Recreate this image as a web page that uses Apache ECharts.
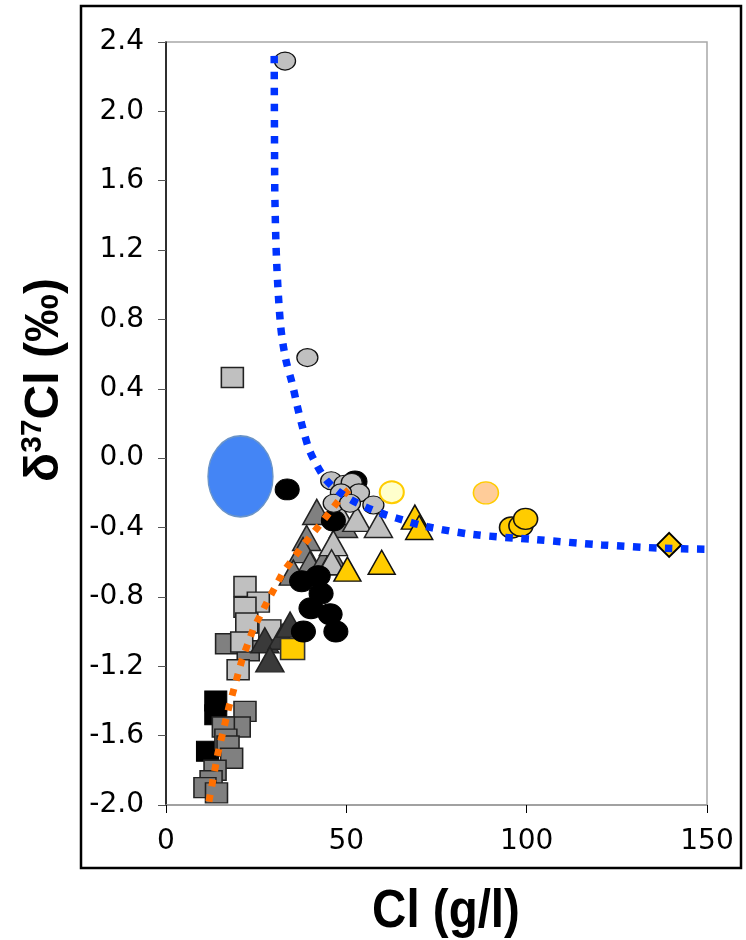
<!DOCTYPE html>
<html>
<head>
<meta charset="utf-8">
<script src="https://cdn.jsdelivr.net/npm/echarts@6/dist/echarts.min.js"></script>
<style>
  html, body { margin: 0; padding: 0; background: #fff; }
  #chart { width: 746px; height: 940px; }
</style>
</head>
<body>
<div id="chart"></div>
<script>
// x = Cl (g/l), y = d37Cl (permil)
const xTicks = [0, 50, 100, 150];
const yTicks = [-2.0, -1.6, -1.2, -0.8, -0.4, 0.0, 0.4, 0.8, 1.2, 1.6, 2.0, 2.4];

const blackSquares = [[13.8, -1.40], [13.8, -1.48], [11.5, -1.69]];
const midSquares = [[16.8, -1.07], [22.8, -1.11], [21.9, -1.46], [20.3, -1.55], [15.9, -1.55],
  [16.6, -1.62], [17.2, -1.66], [18.2, -1.73], [13.6, -1.80], [12.5, -1.86], [10.8, -1.90], [14.0, -1.93]];
const lightSquares = [[18.4, 0.465], [21.9, -0.74], [25.6, -0.83], [21.9, -0.86], [22.4, -0.95],
  [28.8, -0.99], [21.0, -1.06], [20.0, -1.22]];
const yellowSquares = [[35.1, -1.10]];
const darkTriangles = [[27.4, -1.05], [32.2, -1.03], [34.4, -0.96], [28.8, -1.16]];
const midTriangles = [[41.8, -0.31], [49.2, -0.385], [39.0, -0.46], [38.0, -0.53], [39.9, -0.61],
  [43.6, -0.60], [35.3, -0.66], [46.3, -0.58]];
const lightTriangles = [[47.8, -0.31], [52.9, -0.35], [58.9, -0.385], [46.4, -0.49], [45.9, -0.60]];
const yellowTriangles = [[69.0, -0.34], [70.2, -0.40], [50.3, -0.64], [59.8, -0.60]];
const blackCircles = [[33.6, -0.18], [52.4, -0.135], [46.4, -0.36], [37.6, -0.71], [42.2, -0.68],
  [43.0, -0.78], [40.2, -0.865], [45.5, -0.90], [47.1, -1.0], [38.1, -1.0]];
const greyCircles = [[33.0, 2.29], [39.2, 0.58], [45.8, -0.13], [49.5, -0.15], [51.5, -0.14],
  [53.5, -0.20], [48.5, -0.20], [46.5, -0.26], [51.0, -0.26], [57.5, -0.27]];
const paleCircles = [[62.6, -0.196]];
const peachCircles = [[88.7, -0.20]];
const yellowCircles = [[95.8, -0.40], [98.4, -0.39], [99.7, -0.35]];
const yellowDiamonds = [[139.5, -0.50]];
const blueEllipse = [[20.65, -0.105]];

const mixingCurve = [[30.0, 2.32], [30.1, 1.76], [30.2, 1.49], [30.7, 1.12], [31.8, 0.76], [33.2, 0.57],
  [35.0, 0.43], [36.4, 0.30], [37.9, 0.175], [39.7, 0.05], [41.8, -0.04], [44.4, -0.125], [47.7, -0.19],
  [51.3, -0.24], [55.2, -0.28], [59.3, -0.315], [63.8, -0.345], [72.4, -0.395], [85.1, -0.44],
  [102.8, -0.47], [120.8, -0.50], [138.3, -0.52], [149.7, -0.525]];
const trendLine = [[11.9, -1.98], [14.4, -1.70], [17.5, -1.43], [21.1, -1.16], [24.1, -0.99],
  [28.0, -0.83], [32.4, -0.66], [37.7, -0.51], [43.2, -0.37], [48.8, -0.22], [51.3, -0.17]];

const tickFont = 'DejaVu Sans, sans-serif';
const titleFont = 'Liberation Sans, Arial, sans-serif';

function pts(data, symbol, size, fill, border, bw) {
  return {
    type: 'scatter', data: data, symbol: symbol, symbolSize: size,
    itemStyle: { color: fill, borderColor: border, borderWidth: bw, opacity: 1 },
    emphasis: { disabled: true }
  };
}

const chart = echarts.init(document.getElementById('chart'));
chart.setOption({
  animation: false,
  grid: { left: 166, top: 42, width: 541, height: 763, show: true, borderColor: '#a8a8a8', borderWidth: 1.5 },
  xAxis: {
    type: 'value', min: xTicks[0], max: xTicks[xTicks.length - 1], interval: 50,
    axisLine: { show: true, onZero: false, lineStyle: { color: '#999', width: 1.5 } },
    axisTick: { show: true, length: 8, lineStyle: { color: '#000' } },
    splitLine: { show: false },
    axisLabel: { margin: 23, fontSize: 28, color: '#000', fontFamily: tickFont }
  },
  yAxis: {
    type: 'value', min: yTicks[0], max: yTicks[yTicks.length - 1], interval: 0.4,
    axisLine: { show: true, onZero: false, lineStyle: { color: '#000', width: 1.5 } },
    axisTick: { show: true, length: 8, lineStyle: { color: '#555' } },
    splitLine: { show: false },
    axisLabel: { margin: 22, fontSize: 28, color: '#000', fontFamily: tickFont,
      formatter: v => v.toFixed(1) }
  },
  graphic: [
    { type: 'rect', z: -10, shape: { x: 81, y: 6, width: 660, height: 862 },
      style: { fill: 'none', stroke: '#000', lineWidth: 2.5 } },
    { type: 'text', x: 446, y: 912, scaleX: 0.88,
      style: { text: 'Cl (g/l)', font: 'bold 54px Liberation Sans, Arial, sans-serif',
        fill: '#000', align: 'center', verticalAlign: 'middle' } },
    { type: 'text', x: 45, y: 380, rotation: Math.PI / 2,
      style: { text: '{a|δ}{s|37}{a|Cl (‰)}', align: 'center', verticalAlign: 'middle',
        rich: {
          a: { fontSize: 48, fontWeight: 'bold', fontFamily: titleFont, color: '#000' },
          s: { fontSize: 30, fontWeight: 'bold', fontFamily: titleFont, color: '#000', padding: [0, 0, 24, 0] }
        } } }
  ],
  series: [
    pts(blackSquares, 'rect', [22, 20], '#000', '#000', 1),
    pts(midSquares, 'rect', [22, 20], '#808080', '#222', 1.5),
    pts(lightSquares, 'rect', [22, 20], '#c0c0c0', '#222', 1.5),
    pts(darkTriangles, 'triangle', [28, 25], '#3a3a3a', '#222', 1.5),
    pts(yellowSquares, 'rect', [24, 21], '#ffcc00', '#333', 1.5),
    pts(midTriangles, 'triangle', [28, 25], '#808080', '#222', 1.5),
    pts(lightTriangles, 'triangle', [28, 25], '#c0c0c0', '#222', 1.5),
    pts(yellowTriangles, 'triangle', [27, 24], '#ffcc00', '#111', 1.5),
    pts(blackCircles, 'circle', [24, 21], '#000', '#000', 1),
    pts(greyCircles, 'circle', [21, 18], '#c0c0c0', '#111', 1.2),
    pts(paleCircles, 'circle', [24, 22], '#ffffcc', '#ffcc00', 2),
    pts(peachCircles, 'circle', [25, 22], '#ffcc99', '#ffcc00', 1.5),
    pts(yellowCircles, 'circle', [24, 21], '#ffcc00', '#111', 1.5),
    pts(yellowDiamonds, 'diamond', [24, 24], '#ffcc00', '#000', 2),
    pts(blueEllipse, 'circle', [65, 81], '#4485f5', '#6a94c8', 1.5),
    {
      type: 'line', data: trendLine, showSymbol: false, symbol: 'none',
      lineStyle: { color: '#ff6f00', width: 7, type: [7, 8.5], cap: 'butt' }
    },
    {
      type: 'line', data: mixingCurve, showSymbol: false, symbol: 'none', smooth: 0.3,
      lineStyle: { color: '#0033ff', width: 7.5, type: [7.5, 8.5], cap: 'butt' }
    }
  ]
});
</script>
</body>
</html>
